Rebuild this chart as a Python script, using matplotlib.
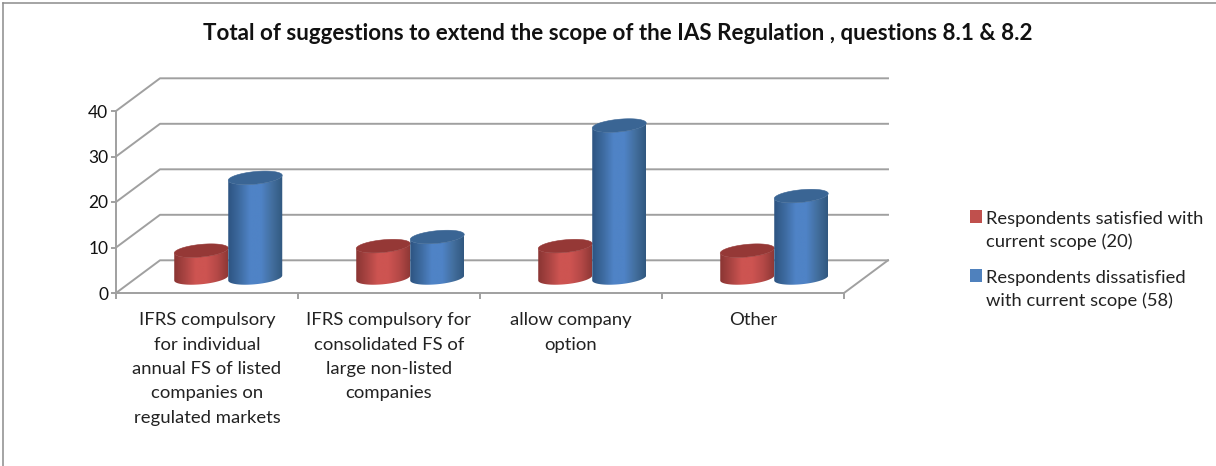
import numpy as np
import matplotlib
matplotlib.use("Agg")
import matplotlib.pyplot as plt
from matplotlib.patches import Patch, PathPatch, Rectangle
from matplotlib.lines import Line2D
from matplotlib.path import Path
from matplotlib.colors import LinearSegmentedColormap
from matplotlib.legend_handler import HandlerPatch

plt.rcParams['font.family'] = ['Lato', 'DejaVu Sans']

title = "Total of suggestions to extend the scope of the IAS Regulation , questions 8.1 & 8.2"
categories = ["IFRS compulsory\nfor individual\nannual FS of listed\ncompanies on\nregulated markets",
              "IFRS compulsory for\nconsolidated FS of\nlarge non-listed\ncompanies",
              "allow company\noption",
              "Other"]
series_names = ["Respondents satisfied with\ncurrent scope (20)",
                "Respondents dissatisfied\nwith current scope (58)"]
satisfied = [6, 7, 7, 6]
dissatisfied = [22, 9, 33.5, 18]
y_ticks = [0, 10, 20, 30, 40]

W, H = 1216, 466
X0, X4 = 116, 844      # front plane, pixels
Y0, Y40 = 293, 111
PX_X = (X4 - X0) / 4
PX_Y = (Y0 - Y40) / 40
DX, DY = 44 / PX_X, 32.7 / PX_Y   # depth offset in data units
GRID = '#a0a0a0'
LW = 1.4

fig = plt.figure(figsize=(W / 100, H / 100), dpi=100)
ax = fig.add_axes([0, 0, 1, 1])
ax.set_xlim(-X0 / PX_X, (W - X0) / PX_X)
ax.set_ylim(-(H - Y0) / PX_Y, Y0 / PX_Y)
ax.patch.set_alpha(0)

# walls and floor
for v in y_ticks:
    ax.plot([0, DX, 4 + DX], [v, v + DY, v + DY], color=GRID, lw=LW, zorder=1)
ax.plot([4, 4 + DX], [0, DY], color=GRID, lw=LW, zorder=1)

# axes
for s in ['top', 'right']:
    ax.spines[s].set_visible(False)
ax.spines['left'].set_position(('data', 0))
ax.spines['bottom'].set_position(('data', 0))
ax.spines['left'].set_bounds(0, 40)
ax.spines['bottom'].set_bounds(0, 4)
for s in ['left', 'bottom']:
    ax.spines[s].set_color(GRID)
    ax.spines[s].set_linewidth(LW)
ax.set_yticks(y_ticks)
ax.set_yticklabels([str(v) for v in y_ticks])
ax.tick_params(axis='y', length=3.5, width=LW, color=GRID, pad=2, labelsize=12.5, labelcolor='#111111')
ax.set_xticks(range(5))
ax.set_xticklabels([])
ax.tick_params(axis='x', which='major', length=4, width=LW, color=GRID)
ax.set_xticks(np.arange(len(categories)) + 0.5, minor=True)
ax.set_xticklabels(categories, minor=True, fontsize=13.3, color='#222222', linespacing=1.64)
ax.tick_params(axis='x', which='minor', length=0, pad=14)

red_cmap = LinearSegmentedColormap.from_list('r', ['#8a3533', '#a94442', '#cd5451', '#cd5451', '#b54947', '#8f3836'])
blue_cmap = LinearSegmentedColormap.from_list('b', ['#2d5481', '#3d6a9f', '#4f83c6', '#4f83c6', '#436f9f', '#31587f'])
TOPS = ['#953836', '#3a6594']
LEGEND = ['#c0504d', '#4f81bd']

BAR_W = 54 / PX_X
DEPTH = 0.46
SHIFT = 1 / PX_X
A = BAR_W / 2
B = 6.3 / PX_Y
S = 2.5 / PX_Y
t = np.linspace(0, 2 * np.pi, 90)
grad = np.linspace(0, 1, 256).reshape(1, -1)


def cylinder(xc, value, cmap, top, z):
    cx = xc + DX * DEPTH + SHIFT
    base = DY * DEPTH
    tt = value + base
    lo = np.linspace(np.pi, 2 * np.pi, 40)
    bx = cx + A * np.cos(lo)
    by = base + B * np.sin(lo) + S * np.cos(lo)
    ux = cx + A * np.cos(lo[::-1])
    uy = tt + B * np.sin(lo[::-1]) + S * np.cos(lo[::-1])
    verts = np.column_stack([np.r_[bx, ux], np.r_[by, uy]])
    verts = np.vstack([verts, verts[0]])
    clip = PathPatch(Path(verts), transform=ax.transData, fc='none', ec='none')
    ax.add_patch(clip)
    im = ax.imshow(grad, cmap=cmap, aspect='auto', zorder=z,
                   extent=(cx - A, cx + A, base - 2 * B, tt + 2 * B), interpolation='bilinear')
    im.set_clip_path(clip)
    ax.fill(cx + A * np.cos(t), tt + B * np.sin(t) + S * np.cos(t), color=top, lw=0.4, zorder=z + 0.1)


xl, yl = ax.get_xlim(), ax.get_ylim()
for i in range(len(categories)):
    cylinder(i + 0.5 - BAR_W / 2, satisfied[i], red_cmap, TOPS[0], 3 + i)
    cylinder(i + 0.5 + BAR_W / 2, dissatisfied[i], blue_cmap, TOPS[1], 3.5 + i)
ax.set_xlim(xl)
ax.set_ylim(yl)

fig.text(617.5 / W, 1 - 33 / H, title, ha='center', va='center', fontsize=16.1, fontweight='bold', color='#111111')


def raised_square(legend, orig_handle, xdescent, ydescent, width, height, fontsize):
    return Rectangle((-xdescent, -ydescent + 10), width, height)


handles = [Patch(fc=LEGEND[0], ec='none'), Patch(fc=LEGEND[1], ec='none')]
leg = fig.legend(handles, series_names, loc='upper left', bbox_to_anchor=(970 / W, 1 - 211 / H), frameon=False,
                 fontsize=13.2, handlelength=0.68, handleheight=0.72, handletextpad=0.2, labelspacing=1.1,
                 labelcolor='#222222', borderpad=0, borderaxespad=0,
                 handler_map={Patch: HandlerPatch(patch_func=raised_square)})
for txt in leg.get_texts():
    txt.set_linespacing(1.46)

# chart frame: only the top and left edges are visible
fig.add_artist(Line2D([2.5 / W, 2.5 / W], [0, 1 - 2.5 / H], transform=fig.transFigure, color='#8c8c8c', lw=1.1))
fig.add_artist(Line2D([2.5 / W, 1], [1 - 2.5 / H, 1 - 2.5 / H], transform=fig.transFigure, color='#8c8c8c', lw=1.1))

fig.savefig('out.png', dpi=100)
